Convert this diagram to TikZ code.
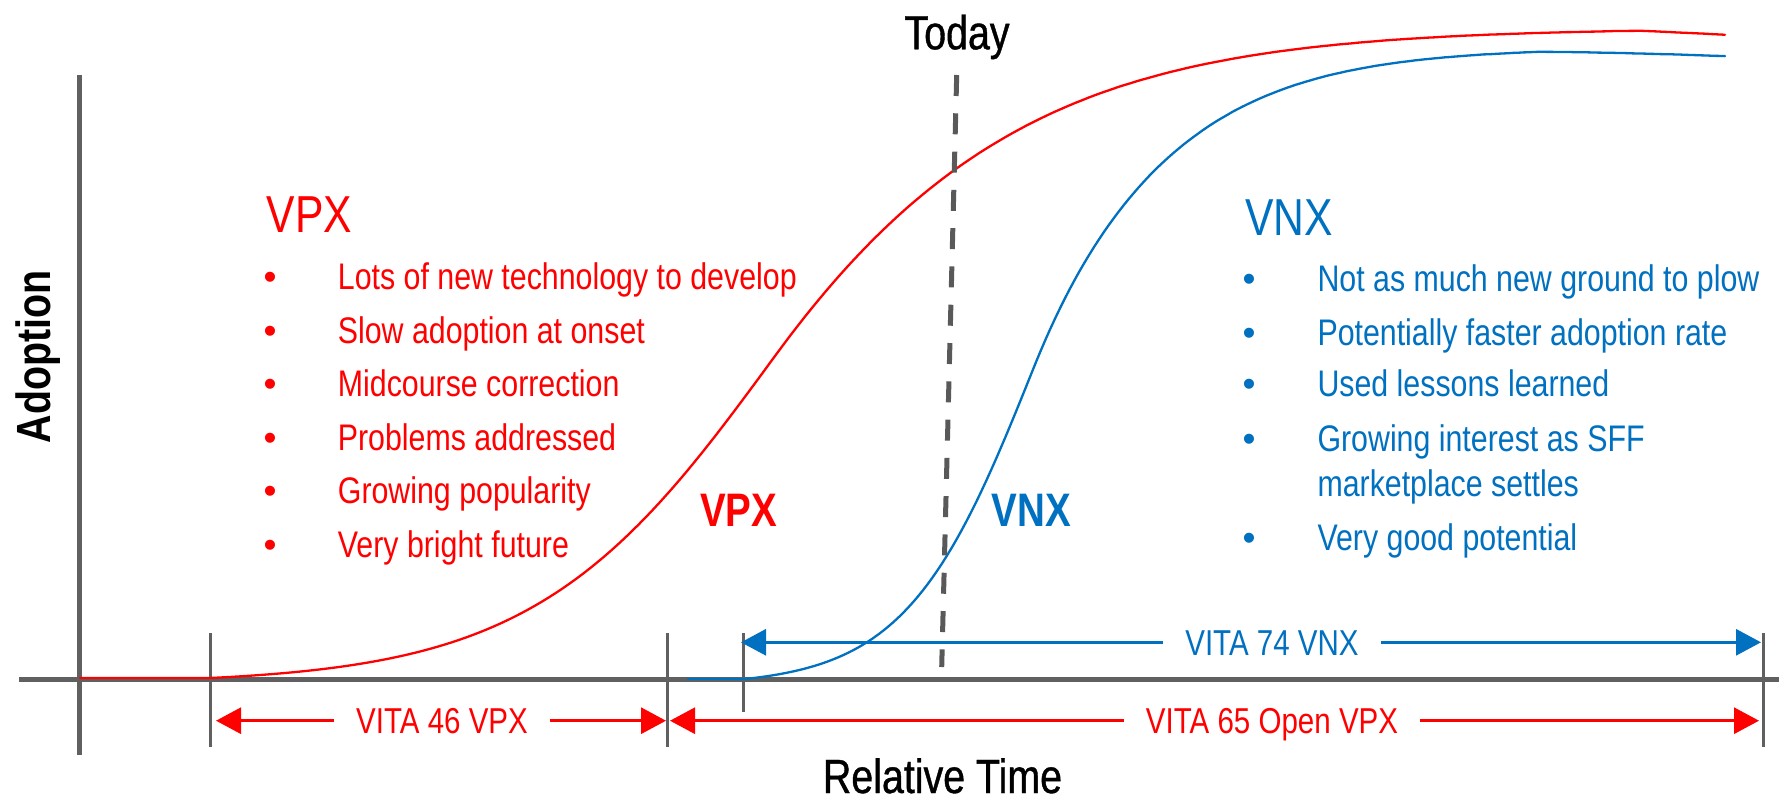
\documentclass[tikz,border=0pt]{standalone}
\usepackage{fontspec}
\setmainfont{Liberation Sans}[FakeStretch=0.82]
\newfontfamily\medfont{Liberation Sans}[FakeStretch=0.82,FakeBold=0.8]
\newfontfamily\bulfont{Liberation Sans}
\usetikzlibrary{arrows.meta}
\definecolor{vred}{HTML}{FF0000}
\definecolor{vblue}{HTML}{0070C0}
\definecolor{axgray}{HTML}{606060}
\definecolor{dashgray}{HTML}{595959}
\begin{document}
\begin{tikzpicture}[x=1pt,y=-1pt,
  declare function={
    sred(\x)=(\x<775)*120+(\x>=775)*(120+38*(1-exp(-(\x-775)/250)));
    lred(\x)=1/(1+exp(-(\x-775)/sred(\x)));
    redf(\x)=678-650*(lred(\x)-0.00894)/0.99106+0.06*max(\x-1640,0);
    sblu(\x)=(\x<1034)*64+(\x>=1034)*(64+36*(1-exp(-(\x-1034)/150)));
    lblu(\x)=1/(1+exp(-(\x-1034)/sblu(\x)));
    bluf(\x)=679-631*(lblu(\x)-0.0108)/0.9892+0.04*max(\x-1540,0);
  },
  txt/.style={inner sep=0pt,anchor=base west,font=\fontsize{37}{44}\selectfont},
  bul/.style={inner sep=0pt,anchor=base,font=\bulfont\fontsize{37}{44}\selectfont},
  headtxt/.style={inner sep=0pt,anchor=base west,font=\fontsize{52}{60}\selectfont},
  midtxt/.style={inner sep=0pt,anchor=base west,font=\bfseries\fontsize{47}{54}\selectfont},
  axistxt/.style={inner sep=0pt,anchor=base,font=\medfont\fontsize{48}{56}\selectfont},
  dimlabel/.style={fill=white,inner xsep=22pt,inner ysep=4pt,anchor=base,font=\fontsize{36}{42}\selectfont},
  axisline/.style={draw=axgray,line width=4.5pt},
  tickline/.style={draw=axgray,line width=3pt},
  dimarrow/.style={{Triangle[length=25pt,width=26pt]}-{Triangle[length=25pt,width=26pt]},line width=3pt},
  curve/.style={line width=2.3pt,line join=round,line cap=round},
  todayline/.style={draw=dashgray,line width=5pt,dash pattern=on 21pt off 17.3pt}
]
\useasboundingbox (0,0) rectangle (1779,800);

% axes
\coordinate (ytop) at (79.5,75);
\coordinate (ybot) at (79.5,755);
\coordinate (xl) at (19,679.5);
\coordinate (xr) at (1779,679.5);
\draw[axisline] (ytop) -- (ybot);
\draw[axisline] (xl) -- (xr);

% ticks
\coordinate (t46a) at (210.5,633); \coordinate (t46b) at (210.5,747);
\coordinate (t65a) at (667.7,633); \coordinate (t65b) at (667.7,747);
\coordinate (t74a) at (743.7,633); \coordinate (t74b) at (743.7,712);
\coordinate (tea)  at (1763,633);  \coordinate (teb)  at (1763,747);
\draw[tickline] (t46a) -- (t46b);
\draw[tickline] (t65a) -- (t65b);
\draw[tickline] (t74a) -- (t74b);
\draw[tickline] (tea) -- (teb);

% curves
\draw[curve,vred] (80,678) -- (210,678)
  -- plot[domain=210:1725,samples=220,variable=\x] ({\x},{redf(\x)});
\draw[curve,vblue] (688,679) -- (745,679)
  -- plot[domain=745:1725,samples=200,variable=\x] ({\x},{bluf(\x)});

% today line
\coordinate (tdtop) at (956.7,75);
\coordinate (tdbot) at (941.7,667);
\draw[todayline] (tdtop) -- (tdbot);
\node[axistxt] (today) at (957,49.3) {Today};

% dimension arrows
\coordinate (a46l) at (216,720.7); \coordinate (a46r) at (666,720.7);
\coordinate (a65l) at (670,720.7); \coordinate (a65r) at (1759,720.7);
\coordinate (a74l) at (741,642.3); \coordinate (a74r) at (1761,642.3);
\draw[dimarrow,vred] (a46l) -- (a46r);
\draw[dimarrow,vred] (a65l) -- (a65r);
\draw[dimarrow,vblue] (a74l) -- (a74r);
\node[dimlabel,text=vred] (l46) at (442,733.6) {VITA 46 VPX};
\node[dimlabel,text=vred] (l65) at (1272,733.6) {VITA 65 Open VPX};
\node[dimlabel,text=vblue] (l74) at (1272,655.2) {VITA 74 VNX};

% axis titles
\node[axistxt] (reltime) at (942.5,793) {Relative Time};
\node[inner sep=0pt,anchor=base,rotate=90,font=\bfseries\fontsize{48}{56}\selectfont] (adoption) at (50,357) {Adoption};

% VPX block
\node[headtxt,text=vred] (vpxhead) at (266.6,232) {VPX};
\node[bul,text=vred] (rb1) at (270,289.8) {•};
\node[txt,text=vred] (r1) at (337.7,289.8) {Lots of new technology to develop};
\node[bul,text=vred] (rb2) at (270,343.3) {•};
\node[txt,text=vred] (r2) at (337.7,343.3) {Slow adoption at onset};
\node[bul,text=vred] (rb3) at (270,396.7) {•};
\node[txt,text=vred] (r3) at (337.7,396.7) {Midcourse correction};
\node[bul,text=vred] (rb4) at (270,450) {•};
\node[txt,text=vred] (r4) at (337.7,450) {Problems addressed};
\node[bul,text=vred] (rb5) at (270,503.3) {•};
\node[txt,text=vred] (r5) at (337.7,503.3) {Growing popularity};
\node[bul,text=vred] (rb6) at (270,557.3) {•};
\node[txt,text=vred] (r6) at (337.7,557.3) {Very bright future};

% VNX block
\node[headtxt,text=vblue] (vnxhead) at (1245,235) {VNX};
\node[bul,text=vblue] (bb1) at (1249,291.7) {•};
\node[txt,text=vblue] (b1) at (1317.3,291.7) {Not as much new ground to plow};
\node[bul,text=vblue] (bb2) at (1249,345) {•};
\node[txt,text=vblue] (b2) at (1317.3,345) {Potentially faster adoption rate};
\node[bul,text=vblue] (bb3) at (1249,396.7) {•};
\node[txt,text=vblue] (b3) at (1317.3,396.7) {Used lessons learned};
\node[bul,text=vblue] (bb4) at (1249,451.7) {•};
\node[txt,text=vblue] (b4) at (1317.3,451.7) {Growing interest as SFF};
\node[txt,text=vblue] (b4b) at (1317.3,496.7) {marketplace settles};
\node[bul,text=vblue] (bb5) at (1249,550.7) {•};
\node[txt,text=vblue] (b5) at (1317.3,550.7) {Very good potential};

% curve labels
\node[midtxt,text=vred] (vpxmid) at (700,526.7) {VPX};
\node[midtxt,text=vblue] (vnxmid) at (991.7,526.7) {VNX};
\end{tikzpicture}
\end{document}
